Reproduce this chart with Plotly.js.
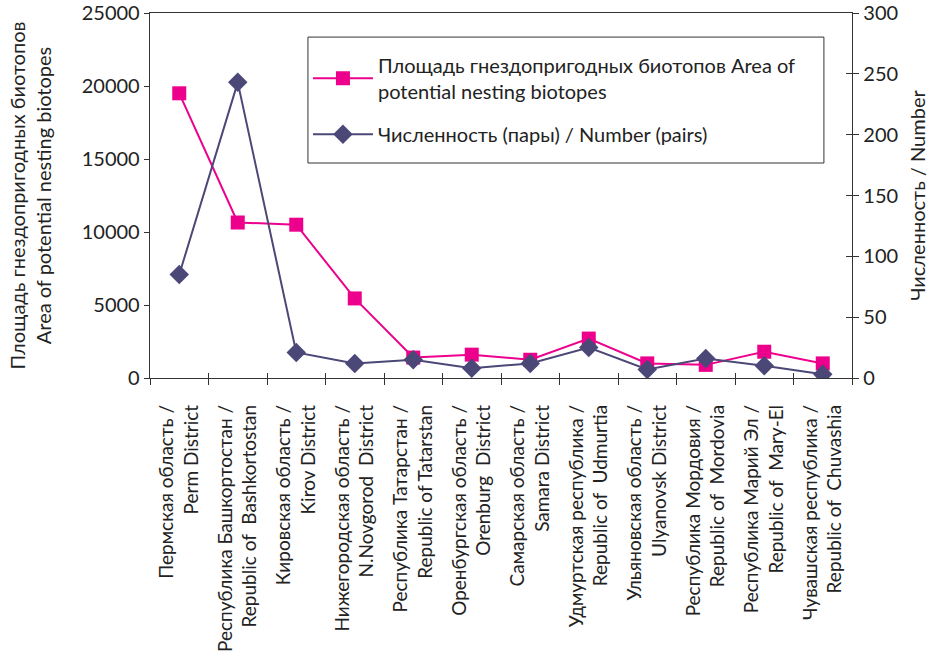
<!DOCTYPE html>
<html>
<head>
<meta charset="utf-8">
<script src="https://cdn.plot.ly/plotly-3.0.1.min.js"></script>
<style>html,body{margin:0;padding:0;background:#fff;}#chart{width:929px;height:659px;}</style>
</head>
<body>
<div id="chart"></div>
<script>
var categories = [
  "Пермская область /<br>Perm District",
  "Республика Башкортостан /<br>Republic of  Bashkortostan",
  "Кировская область /<br>Kirov District",
  "Нижегородская область /<br>N.Novgorod  District",
  "Республика Татарстан /<br>Republic of Tatarstan",
  "Оренбургская область /<br>Orenburg  District",
  "Самарская область /<br>Samara District",
  "Удмуртская республика /<br>Republic of  Udmurtia",
  "Ульяновская область /<br>Ulyanovsk District",
  "Республика Мордовия /<br>Republic of  Mordovia",
  "Республика Марий Эл /<br>Republic of  Mary-El",
  "Чувашская республика /<br>Republic of  Chuvashia"
];
var areaValues = [19500, 10650, 10500, 5450, 1400, 1600, 1250, 2700, 1000, 900, 1800, 1000];
var numberValues = [85, 243, 21, 12, 15, 8, 12, 25, 7, 16, 10, 3];
var areaName = "Площадь гнездопригодных биотопов Area of<br>potential nesting biotopes";
var numberName = "Численность (пары) / Number (pairs)";
var leftTitle = "Площадь гнездопригодных биотопов<br>Area of potential nesting biotopes";
var rightTitle = "Численность / Number";

var FONT = "Lato, 'Open Sans', sans-serif";
var TXT = "#222";
var idx = categories.map(function(c, i){ return i; });
var boundaries = categories.map(function(c, i){ return i - 0.5; }).concat([categories.length - 0.5]);

var traces = [
  {
    x: idx, y: areaValues, name: areaName, type: "scatter", mode: "lines+markers",
    legendgroup: "a",
    line: {color: "#EC008C", width: 2},
    marker: {symbol: "square", size: 14, color: "#EC008C"},
    xaxis: "x", yaxis: "y"
  },
  {
    x: idx, y: numberValues, name: numberName, type: "scatter", mode: "lines+markers",
    legendgroup: "b",
    line: {color: "#4B4878", width: 2},
    marker: {symbol: "diamond", size: 15, color: "#4B4878"},
    xaxis: "x", yaxis: "y2"
  }
];

var axisColor = "#333";
var layout = {
  width: 929, height: 659,
  margin: {l: 150, r: 77, t: 13, b: 281},
  paper_bgcolor: "#fff", plot_bgcolor: "#fff",
  font: {family: FONT, size: 20, color: TXT},
  showlegend: true,
  legend: {
    x: 0.225, y: 0.91, xanchor: "left", yanchor: "top",
    bgcolor: "rgba(0,0,0,0)", borderwidth: 0,
    itemwidth: 60,
    font: {family: FONT, size: 20, color: TXT},
    tracegroupgap: 14
  },
  shapes: [{
    type: "rect", xref: "paper", yref: "paper",
    x0: 0.225, x1: 0.960, y0: 0.589, y1: 0.934,
    line: {color: "#333", width: 1}, fillcolor: "rgba(0,0,0,0)", layer: "above"
  }],
  xaxis: {
    range: [-0.5, categories.length - 0.5],
    tickmode: "array", tickvals: idx, ticktext: categories,
    tickangle: -90, ticks: "", showgrid: false, zeroline: false,
    ticklabelstandoff: 18,
    showline: true, linecolor: axisColor, linewidth: 1.3, mirror: true,
    tickfont: {family: FONT, size: 19, color: TXT}
  },
  xaxis2: {
    overlaying: "x", anchor: "y", side: "bottom",
    range: [-0.5, categories.length - 0.5],
    tickmode: "array", tickvals: boundaries, ticks: "outside", ticklen: 6,
    tickcolor: axisColor, showticklabels: false, showgrid: false, zeroline: false, showline: false
  },
  xaxis3: {
    overlaying: "x", anchor: "y", side: "bottom",
    range: [-0.5, categories.length - 0.5],
    tickmode: "array", tickvals: boundaries, ticks: "inside", ticklen: 5,
    tickcolor: axisColor, showticklabels: false, showgrid: false, zeroline: false, showline: false
  },
  yaxis: {
    range: [0, 25000], dtick: 5000, tickformat: "d", ticks: "outside", ticklen: 5, tickcolor: axisColor,
    showgrid: false, zeroline: false, showline: true, linecolor: axisColor, linewidth: 1.3,
    tickfont: {family: FONT, size: 20, color: TXT},
    title: {text: leftTitle, font: {family: FONT, size: 20, color: TXT}, standoff: 24}
  },
  yaxis2: {
    overlaying: "y", side: "right", range: [0, 300], dtick: 50,
    ticks: "outside", ticklen: 6, tickcolor: axisColor,
    showgrid: false, zeroline: false, showline: true, linecolor: axisColor, linewidth: 1.3,
    tickfont: {family: FONT, size: 20, color: TXT},
    title: {text: rightTitle, font: {family: FONT, size: 20, color: TXT}, standoff: 16}
  },
  yaxis3: {
    overlaying: "y", side: "right", range: [0, 300], dtick: 50,
    ticks: "inside", ticklen: 6, tickcolor: axisColor, showticklabels: false,
    showgrid: false, zeroline: false, showline: false
  }
};

traces.push({x: [], y: [], xaxis: "x2", yaxis: "y", showlegend: false, hoverinfo: "skip", type: "scatter"});
traces.push({x: [], y: [], xaxis: "x3", yaxis: "y3", showlegend: false, hoverinfo: "skip", type: "scatter"});

Plotly.newPlot("chart", traces, layout, {displayModeBar: false, staticPlot: true});
</script>
</body>
</html>
